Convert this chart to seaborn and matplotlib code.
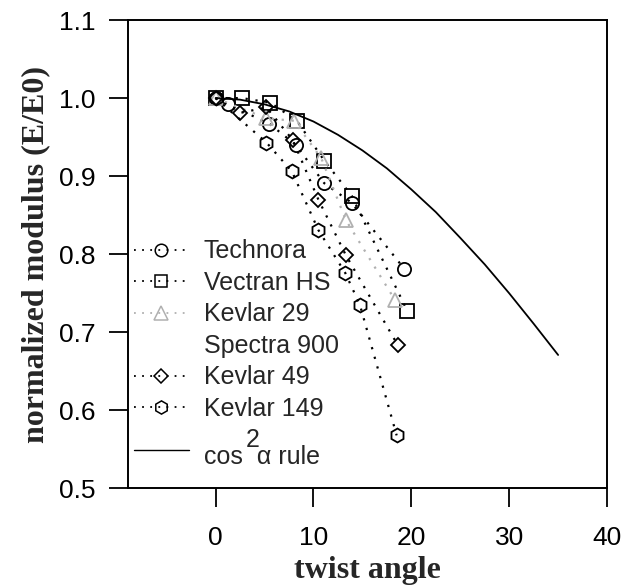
import matplotlib
matplotlib.use("Agg")
import matplotlib.pyplot as plt
from matplotlib.lines import Line2D
import seaborn as sns
import pandas as pd

# ---- data ----
technora_x = [0, 1.3, 5.5, 8.2, 11.1, 13.9, 19.3]
technora_y = [1.000, 0.992, 0.967, 0.940, 0.891, 0.866, 0.781]

vectran_x = [0, 2.7, 5.6, 8.3, 11.1, 13.9, 19.6]
vectran_y = [1.000, 1.000, 0.994, 0.971, 0.920, 0.875, 0.727]

kevlar29_x = [0, 5.2, 8.0, 10.8, 13.3, 18.3]
kevlar29_y = [1.000, 0.974, 0.971, 0.923, 0.844, 0.742]

kevlar49_x = [0, 2.5, 5.2, 7.9, 10.5, 13.3, 18.6]
kevlar49_y = [1.000, 0.981, 0.988, 0.946, 0.870, 0.799, 0.684]

kevlar149_x = [0, 5.2, 7.8, 10.5, 13.25, 14.75, 18.5]
kevlar149_y = [1.000, 0.943, 0.906, 0.831, 0.776, 0.735, 0.568]

cos_x = [0, 2.5, 5, 7.5, 10, 12.5, 15, 17.5, 20, 22.5, 25, 27.5, 30, 32.5, 35]
cos_y = [1.000, 0.998, 0.992, 0.983, 0.970, 0.953, 0.933, 0.910, 0.883,
         0.854, 0.821, 0.787, 0.750, 0.711, 0.671]

x_ticks = [0, 10, 20, 30, 40]
y_ticks = [0.5, 0.6, 0.7, 0.8, 0.9, 1.0, 1.1]
y_tick_labels = ["0.5", "0.6", "0.7", "0.8", "0.9", "1.0", "1.1"]

legend_labels = ["Technora", "Vectran HS", "Kevlar 29", "Spectra 900",
                 "Kevlar 49", "Kevlar 149", "      2\ncos  α rule"]

series = [
    ("Technora", technora_x, technora_y, "o", "black"),
    ("Vectran HS", vectran_x, vectran_y, "s", "black"),
    ("Kevlar 29", kevlar29_x, kevlar29_y, "^", "#b0b0b0"),
    ("Kevlar 49", kevlar49_x, kevlar49_y, "D", "black"),
    ("Kevlar 149", kevlar149_x, kevlar149_y, "h", "black"),
]

sns.set_style("ticks")
plt.rcParams["font.family"] = ["Liberation Sans", "DejaVu Sans"]

fig = plt.figure(figsize=(6.36, 5.85), dpi=100)
ax = fig.add_axes([0.2005, 0.165, 0.754, 0.8008])

dots = (0, (1, 3.5))
handles = {}
for name, xs, ys, mk, col in series:
    df = pd.DataFrame({"x": xs, "y": ys})
    ms = 7.5 if mk == "D" else (10 if mk in ("h", "^") else 9.5)
    sns.lineplot(data=df, x="x", y="y", ax=ax, estimator=None, sort=True,
                 color=col, linestyle=dots, linewidth=1.6,
                 marker=mk, markersize=ms, markerfacecolor="none",
                 markeredgecolor=col, markeredgewidth=1.3)
    handles[name] = Line2D([], [], color=col, linestyle=dots, linewidth=1.3,
                           marker=mk, markersize=ms * 0.95, markerfacecolor="none",
                           markeredgecolor=col, markeredgewidth=1.1)

cos_df = pd.DataFrame({"x": cos_x, "y": cos_y})
sns.lineplot(data=cos_df, x="x", y="y", ax=ax, estimator=None, color="black",
             linewidth=1.3)

handles["Spectra 900"] = Line2D([], [], linestyle="none", marker=None)
handles["cos"] = Line2D([], [], color="black", linewidth=1.0)

order = ["Technora", "Vectran HS", "Kevlar 29", "Spectra 900", "Kevlar 49", "Kevlar 149", "cos"]
leg = ax.legend([handles[k] for k in order], legend_labels, loc="upper left",
                bbox_to_anchor=(-0.008, 0.553), frameon=False, fontsize=18,
                handlelength=2.2, handletextpad=0.6, labelspacing=0.3,
                borderaxespad=0.0, numpoints=1)
leg.get_texts()[-1].set_linespacing(0.62)

ax.set_xlim(-9, 40)
ax.set_ylim(0.5, 1.1)
ax.set_xticks(x_ticks)
ax.set_yticks(y_ticks)
ax.set_yticklabels(y_tick_labels)
ax.tick_params(axis="both", direction="out", length=14, width=1.3,
               labelsize=19, colors="black")
ax.tick_params(axis="x", pad=13)
ax.tick_params(axis="y", pad=9)
for s in ax.spines.values():
    s.set_linewidth(1.4)
    s.set_color("black")
    s.set_visible(True)

ax.set_xlabel("twist angle", family=["Liberation Serif"], fontweight="bold",
              fontsize=23, labelpad=4)
ax.set_ylabel("normalized modulus (E/E0)", family=["Liberation Serif"],
              fontweight="bold", fontsize=23, labelpad=6)

fig.savefig("out.png", dpi=100)
